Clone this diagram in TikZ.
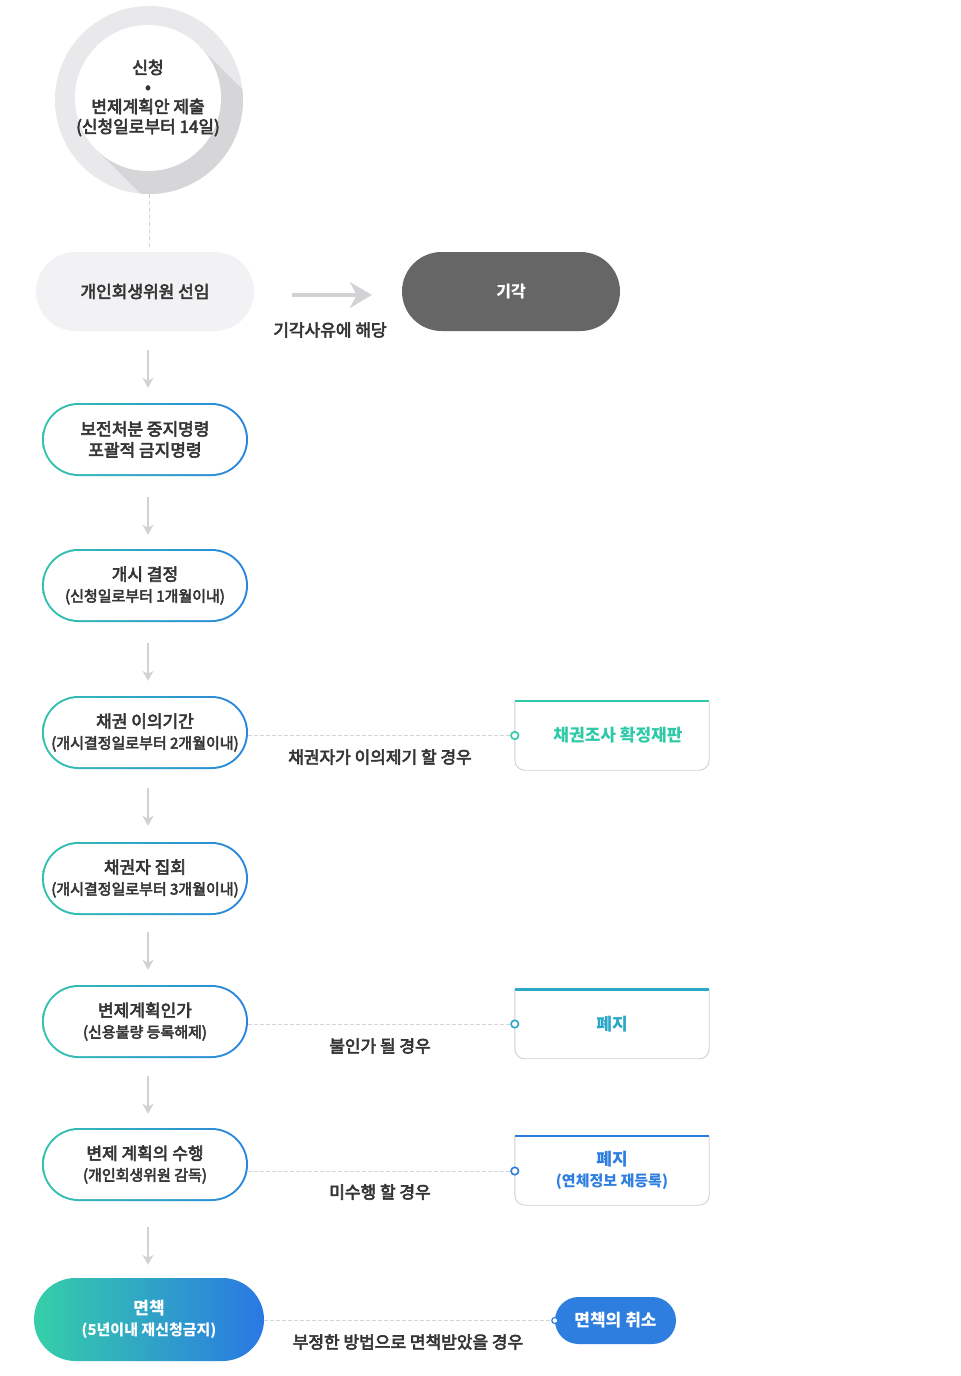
\documentclass[tikz,border=0pt]{standalone}
\usepackage{fontspec}
\setmainfont{Noto Sans CJK KR}
\newfontfamily\krm{Noto Sans CJK KR}[FakeBold=3.5]
\usetikzlibrary{shapes.misc,arrows.meta,calc}
\definecolor{txt}{HTML}{353535}
\definecolor{circout}{HTML}{E9E9EB}
\definecolor{circsh}{HTML}{D6D6D8}
\definecolor{pillgray}{HTML}{F2F1F3}
\definecolor{darkgray}{HTML}{666666}
\definecolor{arrowc}{HTML}{D2D2D4}
\definecolor{dashc}{HTML}{D4D4D6}
\definecolor{gl}{HTML}{33C3AE}
\definecolor{gr}{HTML}{2A84E0}
\definecolor{cteal}{HTML}{2EC9A6}
\definecolor{ccyan}{HTML}{2AA8C8}
\definecolor{cblue}{HTML}{2E7EE0}
\definecolor{mteal}{HTML}{35CFA8}
\definecolor{mblue}{HTML}{2A78E4}
\definecolor{rborder}{HTML}{D0D0D2}
\newcommand{\bigsz}{\fontsize{17}{21}\selectfont}
\newcommand{\smlsz}{\fontsize{15}{21}\selectfont}
\tikzset{
  txtnode/.style={text=txt, align=center, font=\krm\bigsz},
  gbox/.style={rounded rectangle, minimum width=206pt, minimum height=73pt, inner sep=0pt, fill=white, txtnode,
    path picture={
      \shade[left color=gl, right color=gr] (path picture bounding box.south west) rectangle (path picture bounding box.north east);
      \fill[white, rounded corners=34.5pt] ([shift={(2pt,-2pt)}]path picture bounding box.north west) rectangle ([shift={(-2pt,2pt)}]path picture bounding box.south east);
    }},
  rbox/.style={rectangle, minimum width=194pt, minimum height=69pt, inner sep=0pt, fill=white, align=center, font=\bfseries\bigsz},
  mk/.style={circle, draw=#1, fill=white, line width=1.6pt, inner sep=0pt, minimum size=7.5pt},
  dcon/.style={draw=dashc, dash pattern=on 4pt off 2pt, line width=0.8pt},
  lab/.style={text=txt, font=\krm\bigsz},
  darr/.style={draw=arrowc, line width=1.6pt, -{Stealth[length=10pt,width=11pt,inset=3pt]}},
}
\newcommand{\rborder}[2]{%
  \draw[rborder, line width=0.9pt, rounded corners=10pt] (#1.north west) -- (#1.south west) -- (#1.south east) -- (#1.north east);
  \draw[#2, line width=2.6pt] (#1.north west) -- (#1.north east);
}
\begin{document}
\begin{tikzpicture}[x=1pt,y=-1pt]
\useasboundingbox[fill=white] (0,0) rectangle (961,1376);

% top circle
\node[circle, fill=circout, minimum size=188pt, inner sep=0pt] (c0o) at (149,100) {};
\begin{scope}
  \clip (149,100) circle (94pt);
  \fill[circsh] (199.6,46.4) -- (399.6,246.4) -- (296.4,349.6) -- (96.4,149.6) -- cycle;
\end{scope}
\node[circle, fill=white, minimum size=146pt, inner sep=0pt] (c0) at (148,98) {};
\node[text=txt, align=center, font=\krm\fontsize{17}{20}\selectfont] (c0t) at (148,98) {신청\\[-1pt]\textbullet\\변제계획안 제출\\(신청일로부터 14일)};

% first row
\node[rounded rectangle, fill=pillgray, minimum width=218pt, minimum height=79pt, inner sep=0pt, txtnode] (b1) at (145,291.5) {개인회생위원 선임};
\node[rounded rectangle, fill=darkgray, minimum width=218pt, minimum height=79pt, inner sep=0pt, text=white, font=\bfseries\fontsize{16}{20}\selectfont] (k) at (511,291.5) {기각};
\draw[dcon, dash pattern=on 4pt off 3pt] (c0o.south) -- ([yshift=4pt]c0o.south |- b1.north);
\draw[draw=arrowc, line width=4pt, -{Stealth[length=22pt,width=26pt,inset=7pt]}, shorten <=38pt, shorten >=30pt] ([yshift=-3.5pt]b1.east) -- ([yshift=-3.5pt]k.west);
\node[lab] (l0) at (330,330) {기각사유에 해당};

% gradient boxes
\node[gbox] (b2) at (145,439.5) {보전처분 중지명령\\포괄적 금지명령};
\node[gbox] (b3) at (145,585.5) {개시 결정\\{\smlsz(신청일로부터 1개월이내)}};
\node[gbox] (b4) at (145,732.5) {채권 이의기간\\{\smlsz(개시결정일로부터 2개월이내)}};
\node[gbox] (b5) at (145,878.5) {채권자 집회\\{\smlsz(개시결정일로부터 3개월이내)}};
\node[gbox] (b6) at (145,1021.5) {변제계획인가\\{\smlsz(신용불량 등록해제)}};
\node[gbox] (b7) at (145,1164.5) {변제 계획의 수행\\{\smlsz(개인회생위원 감독)}};
\node[rounded rectangle, minimum width=230pt, minimum height=83pt, inner sep=0pt, left color=mteal, right color=mblue, text=white, align=center, font=\bfseries\bigsz] (b8) at (149,1319.5) {면책\\{\smlsz(5년이내 재신청금지)}};

% down arrows
\draw[darr, shorten <=19pt, shorten >=15pt] ([xshift=3pt]b1.south) -- ([xshift=3pt]b2.north);
\draw[darr, shorten <=21pt, shorten >=14pt] ([xshift=3pt]b2.south) -- ([xshift=3pt]b3.north);
\draw[darr, shorten <=21pt, shorten >=15pt] ([xshift=3pt]b3.south) -- ([xshift=3pt]b4.north);
\draw[darr, shorten <=19pt, shorten >=16pt] ([xshift=3pt]b4.south) -- ([xshift=3pt]b5.north);
\draw[darr, shorten <=17pt, shorten >=15pt] ([xshift=3pt]b5.south) -- ([xshift=3pt]b6.north);
\draw[darr, shorten <=18pt, shorten >=14pt] ([xshift=3pt]b6.south) -- ([xshift=3pt]b7.north);
\draw[darr, shorten <=26pt, shorten >=13pt] ([xshift=3pt]b7.south) -- ([xshift=-1pt]b8.north);

% right boxes
\node[rbox, text=cteal] (r1) at (612,735.5) {\hspace{12pt}채권조사 확정재판};
\rborder{r1}{cteal}
\node[rbox, text=ccyan] (r2) at (612,1024) {폐지};
\rborder{r2}{ccyan}
\node[rbox, text=cblue] (r3) at (612,1170.5) {폐지\\{\smlsz(연체정보 재등록)}};
\rborder{r3}{cblue}
\node[rounded rectangle, fill=cblue, minimum width=121pt, minimum height=47pt, inner sep=0pt, text=white, font=\bfseries\bigsz] (r4) at (615.5,1320.5) {면책의 취소};

% markers and connectors
\node[mk=cteal] (m1) at (r1.west) {};
\node[mk=ccyan] (m2) at (r2.west) {};
\node[mk=cblue] (m3) at ([yshift=-0.5pt]r3.west) {};
\node[mk=cblue, minimum size=6pt, line width=1.2pt] (m4) at (r4.west) {};
\draw[dcon] (b4.east |- m1) -- (m1.west);
\draw[dcon] (b6.east |- m2) -- (m2.west);
\draw[dcon] (b7.east |- m3) -- (m3.west);
\draw[dcon] (b8.east |- m4) -- (m4.west);

\node[lab] (l1) at (380,757) {채권자가 이의제기 할 경우};
\node[lab] (l2) at (380,1046) {불인가 될 경우};
\node[lab] (l3) at (380,1192) {미수행 할 경우};
\node[lab] (l4) at (408,1342) {부정한 방법으로 면책받았을 경우};
\end{tikzpicture}
\end{document}
